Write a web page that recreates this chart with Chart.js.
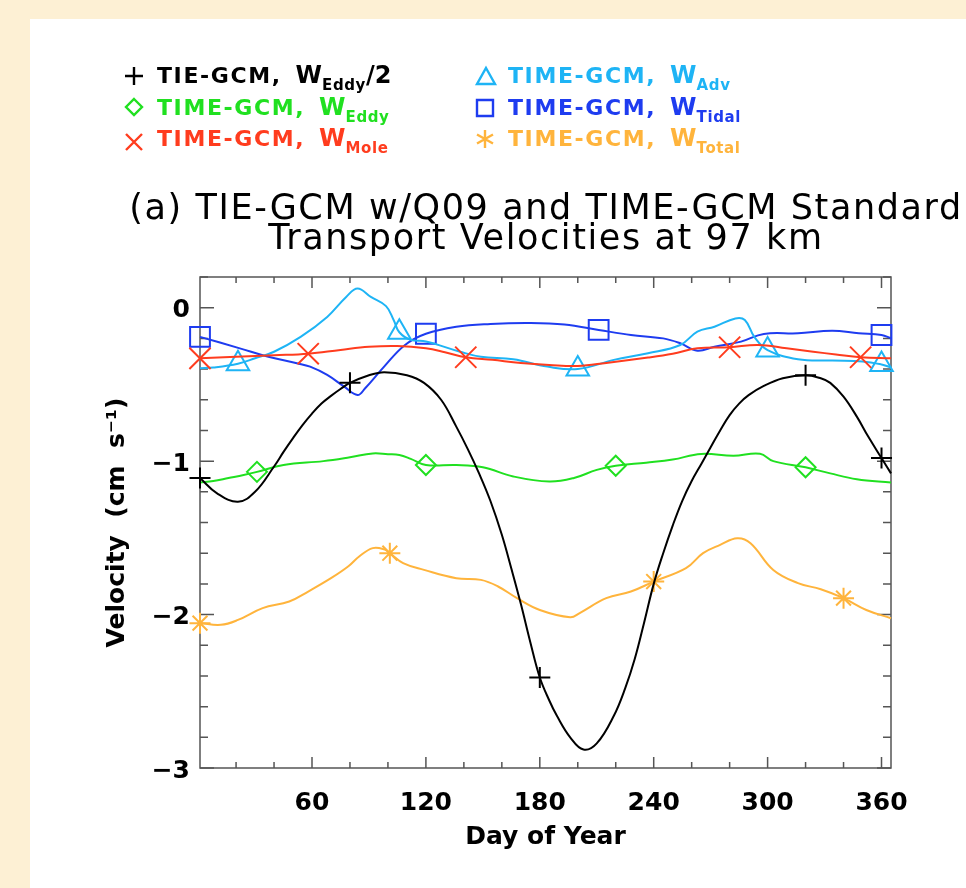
<!DOCTYPE html>
<html><head><meta charset="utf-8">
<script src="https://cdn.jsdelivr.net/npm/chart.js@4.4.1/dist/chart.umd.min.js"></script>
<style>
html,body{margin:0;padding:0;width:966px;height:888px;overflow:hidden;background:#fdf0d4;}
#panel{position:absolute;left:30px;top:19px;right:0;bottom:0;background:#fff;}
#c{position:absolute;left:0;top:0;}
.title{position:absolute;left:0;width:1092px;top:192px;white-space:nowrap;text-align:center;font:35px/30px "DejaVu Sans";letter-spacing:1.6px;color:#000;}
.leg{position:absolute;white-space:nowrap;font:bold 22px/26px "DejaVu Sans";letter-spacing:1.6px;}
.leg .w{margin-left:14px;letter-spacing:0;font-size:24px;}
.leg sub{font-size:15px;vertical-align:-7px;letter-spacing:0.6px;line-height:0;}
.mk{position:absolute;width:20px;height:20px;overflow:visible;}
</style></head>
<body>
<div id="panel"></div>
<canvas id="c" width="966" height="888"></canvas>
<div class="title">(a) TIE-GCM w/Q09 and TIME-GCM Standard<br>Transport Velocities at 97 km</div>

<svg class="mk" style="left:124px;top:65.5px" viewBox="0 0 20 20"><path d="M1 10H19M10 1V19" stroke="#000" stroke-width="2.4" fill="none"/></svg>
<div class="leg" style="left:157px;top:62.4px;color:#000">TIE-GCM,<span class="w">W<sub>Eddy</sub>/2</span></div>
<svg class="mk" style="left:124px;top:96.7px" viewBox="0 0 20 20"><path d="M10 2L18 10L10 18L2 10Z" stroke="#20e020" stroke-width="2.4" fill="none"/></svg>
<div class="leg" style="left:157px;top:93.9px;color:#20e020">TIME-GCM,<span class="w">W<sub>Eddy</sub></span></div>
<svg class="mk" style="left:124px;top:131.5px" viewBox="0 0 20 20"><path d="M2 2L18 18M18 2L2 18" stroke="#ff3c1e" stroke-width="2.4" fill="none"/></svg>
<div class="leg" style="left:157px;top:125.4px;color:#ff3c1e">TIME-GCM,<span class="w">W<sub>Mole</sub></span></div>

<svg class="mk" style="left:476px;top:66px" viewBox="0 0 20 20"><path d="M10 2L19 18H1Z" stroke="#1eb4f5" stroke-width="2.4" fill="none"/></svg>
<div class="leg" style="left:508px;top:62.4px;color:#1eb4f5">TIME-GCM,<span class="w">W<sub>Adv</sub></span></div>
<svg class="mk" style="left:475px;top:97.5px" viewBox="0 0 20 20"><path d="M2 2H18V18H2Z" stroke="#1e3cf0" stroke-width="2.4" fill="none"/></svg>
<div class="leg" style="left:508px;top:93.9px;color:#1e3cf0">TIME-GCM,<span class="w">W<sub>Tidal</sub></span></div>
<svg class="mk" style="left:475px;top:129px" viewBox="0 0 20 20"><path d="M10 1V19M2 5.5L18 14.5M18 5.5L2 14.5" stroke="#ffb43c" stroke-width="2.4" fill="none"/></svg>
<div class="leg" style="left:508px;top:125.4px;color:#ffb43c">TIME-GCM,<span class="w">W<sub>Total</sub></span></div>

<script>
// ---- data ----
const xTickLabels = [60, 120, 180, 240, 300, 360];
const yTickLabels = [-3, -2, -1, 0];
const seriesLabels = ['TIE-GCM, W_Eddy/2', 'TIME-GCM, W_Eddy', 'TIME-GCM, W_Mole', 'TIME-GCM, W_Adv', 'TIME-GCM, W_Tidal', 'TIME-GCM, W_Total'];

const tieDays   = [1,10,21,30,40,45,50,55,60,65,70,75,80,90,98,110,119,128,136,142,148,154,160,165,170,175,180,185,189,196,203,210,219,225,230,235,240,245,250,255,260,265,270,275,280,285,290,298,308,320,328,333,340,347,353,360,365];
const tieEddyHalf = [-1.11,-1.21,-1.265,-1.20,-1.035,-0.94,-0.85,-0.765,-0.69,-0.625,-0.575,-0.53,-0.49,-0.44,-0.42,-0.44,-0.49,-0.60,-0.775,-0.92,-1.08,-1.26,-1.48,-1.70,-1.93,-2.18,-2.41,-2.56,-2.66,-2.80,-2.88,-2.84,-2.66,-2.48,-2.29,-2.05,-1.80,-1.60,-1.42,-1.26,-1.13,-1.02,-0.91,-0.80,-0.70,-0.625,-0.57,-0.51,-0.46,-0.44,-0.46,-0.49,-0.58,-0.71,-0.84,-0.98,-1.08];
const tieMarkerDays = [1, 80, 180, 320, 360];

const eddyDays  = [1,8,16,24,31,45,66,80,92,100,106,112,120,136,150,166,185,198,210,220,236,250,265,282,296,303,320,333,347,365];
const timeEddy  = [-1.14,-1.13,-1.11,-1.09,-1.07,-1.025,-1.0,-0.975,-0.95,-0.955,-0.96,-0.985,-1.025,-1.025,-1.04,-1.10,-1.133,-1.11,-1.057,-1.03,-1.01,-0.99,-0.953,-0.965,-0.952,-1.0,-1.04,-1.08,-1.118,-1.14];
const eddyMarkerDays = [31, 120, 220, 320];

const moleDays  = [1,20,40,58,75,90,105,120,130,141,155,170,185,200,215,237,250,263,280,295,310,324,336,349,365];
const timeMole  = [-0.33,-0.32,-0.31,-0.30,-0.275,-0.255,-0.25,-0.265,-0.29,-0.323,-0.34,-0.36,-0.373,-0.38,-0.36,-0.325,-0.30,-0.265,-0.258,-0.243,-0.265,-0.287,-0.305,-0.323,-0.33];
const moleMarkerDays = [1, 58, 141, 280, 349];

const advDays   = [1,8,21,30,40,54,68,78,84,91,99,103,106,112,120,138,149,166,184,200,219,237,254,263,272,283,288,293,300,316,334,350,360,365];
const timeAdv   = [-0.395,-0.39,-0.365,-0.33,-0.287,-0.19,-0.06,0.07,0.125,0.07,0.01,-0.08,-0.16,-0.21,-0.22,-0.287,-0.32,-0.336,-0.384,-0.40,-0.34,-0.297,-0.243,-0.156,-0.124,-0.07,-0.08,-0.19,-0.276,-0.336,-0.345,-0.35,-0.37,-0.39];
const advMarkerDays = [21, 106, 200, 300, 360];

const tidalDays = [1,22,37,52,59,68,77,84,88,98,109,120,136,154,175,193,211,228,245,254,263,272,286,298,316,334,348,360,365];
const timeTidal = [-0.19,-0.265,-0.32,-0.362,-0.384,-0.438,-0.515,-0.569,-0.525,-0.384,-0.243,-0.17,-0.124,-0.106,-0.10,-0.11,-0.145,-0.178,-0.20,-0.232,-0.28,-0.254,-0.221,-0.171,-0.167,-0.15,-0.167,-0.178,-0.2];
const tidalMarkerDays = [1, 120, 211, 360];

const totalDays = [1,12,21,34,48,58,70,79,85,92,98,101,108,119,136,149,158,168,180,196,201,215,228,240,257,266,275,284,291,303,316,328,340,352,365];
const timeTotal = [-2.056,-2.067,-2.035,-1.958,-1.915,-1.85,-1.763,-1.687,-1.62,-1.567,-1.575,-1.60,-1.665,-1.709,-1.763,-1.774,-1.817,-1.893,-1.97,-2.017,-1.99,-1.893,-1.85,-1.785,-1.698,-1.60,-1.546,-1.503,-1.535,-1.709,-1.795,-1.835,-1.893,-1.97,-2.024];
const totalMarkerDays = [1, 101, 240, 340];

// ---- chart ----
function mkSet(label, days, vals, markers, color, style, r) {
  return {
    label: label,
    data: days.map((d, i) => ({x: d, y: vals[i]})),
    borderColor: color,
    borderWidth: 2,
    pointStyle: style,
    pointBorderColor: color,
    pointBackgroundColor: 'rgba(0,0,0,0)',
    pointBorderWidth: 2,
    pointRadius: ctx => (ctx.raw && markers.includes(ctx.raw.x)) ? r : 0,
    tension: 0.4,
    clip: false
  };
}

const frameTicks = {
  id: 'frameTicks',
  beforeDatasetsDraw(chart) {
    const {ctx, chartArea: a, scales: {x, y}} = chart;
    ctx.save();
    ctx.strokeStyle = '#555';
    ctx.lineWidth = 1.5;
    ctx.strokeRect(a.left, a.top, a.right - a.left, a.bottom - a.top);
    ctx.beginPath();
    for (let d = 20; d <= 360; d += 20) {
      const px = x.getPixelForValue(d);
      const len = xTickLabels.includes(d) ? 11 : 6;
      ctx.moveTo(px, a.bottom); ctx.lineTo(px, a.bottom - len);
      ctx.moveTo(px, a.top); ctx.lineTo(px, a.top + len);
    }
    for (let k = -15; k <= 1; k++) {
      const v = k / 5;
      const py = y.getPixelForValue(v);
      const len = (k % 5 === 0) ? 14 : 8;
      ctx.moveTo(a.left, py); ctx.lineTo(a.left + len, py);
      ctx.moveTo(a.right, py); ctx.lineTo(a.right - len, py);
    }
    ctx.stroke();
    ctx.restore();
  }
};

const tickFont = {family: 'DejaVu Sans', size: 25, weight: 'bold'};

new Chart(document.getElementById('c'), {
  type: 'line',
  data: {
    datasets: [
      mkSet(seriesLabels[0], tieDays, tieEddyHalf, tieMarkerDays, '#000000', 'cross', 10.5),
      mkSet(seriesLabels[1], eddyDays, timeEddy, eddyMarkerDays, '#20e020', 'rectRot', 10),
      mkSet(seriesLabels[2], moleDays, timeMole, moleMarkerDays, '#ff3c1e', 'crossRot', 15),
      mkSet(seriesLabels[3], advDays, timeAdv, advMarkerDays, '#1eb4f5', 'triangle', 13),
      mkSet(seriesLabels[4], tidalDays, timeTidal, tidalMarkerDays, '#1e3cf0', 'rect', 14),
      mkSet(seriesLabels[5], totalDays, timeTotal, totalMarkerDays, '#ffb43c', 'star', 10.5)
    ]
  },
  options: {
    responsive: false,
    animation: false,
    devicePixelRatio: 1,
    events: [],
    layout: {padding: {left: 102.6, right: 75, top: 277, bottom: 35.6}},
    plugins: {legend: {display: false}, title: {display: false}, tooltip: {enabled: false}},
    scales: {
      x: {
        type: 'linear', min: 1, max: 365,
        grid: {display: false, drawTicks: false},
        border: {display: false},
        afterBuildTicks: s => { s.ticks = xTickLabels.map(v => ({value: v})); },
        afterFit: s => { s.height = 84.4; },
        ticks: {font: tickFont, color: '#000', padding: 20, maxRotation: 0, autoSkip: false},
        title: {display: true, text: 'Day of Year', color: '#000', padding: 0,
                font: {family: 'DejaVu Sans', size: 25, weight: 'bold'}}
      },
      y: {
        type: 'linear', min: -3, max: 0.2,
        grid: {display: false, drawTicks: false},
        border: {display: false},
        afterBuildTicks: s => { s.ticks = yTickLabels.map(v => ({value: v})); },
        afterFit: s => { s.width = 97.4; },
        ticks: {font: tickFont, color: '#000', padding: 10, labelOffset: 3,
                callback: v => v < 0 ? '\u2212' + Math.abs(v) : String(v)},
        title: {display: true, text: 'Velocity  (cm  s\u207B\u00B9)', color: '#000', padding: 0,
                font: {family: 'DejaVu Sans', size: 25, weight: 'bold'}}
      }
    }
  },
  plugins: [frameTicks]
});
</script>
</body></html>
